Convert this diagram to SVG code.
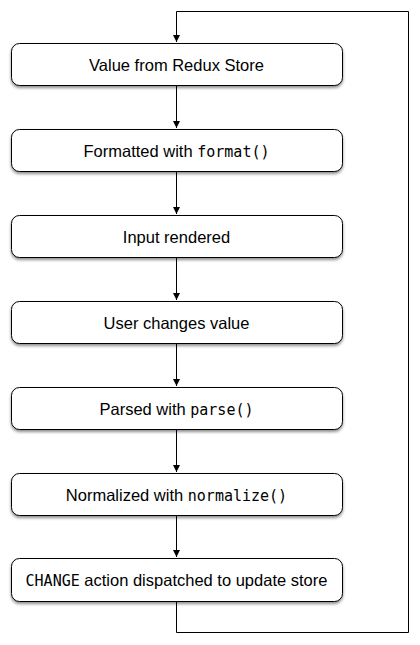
<svg xmlns="http://www.w3.org/2000/svg" width="420" height="645" viewBox="0 0 420 645">
<style>
.box{fill:#fff;stroke:#000;stroke-width:1;filter:url(#sh)}
.t{font-family:"Liberation Sans",Arial,sans-serif;font-size:16.5px;fill:#000;text-anchor:middle}
.m{font-family:"DejaVu Sans Mono",monospace;font-size:15px}
.c{fill:none;stroke:#000;stroke-width:1}
</style>
<defs>
<filter id="sh" x="-5%" y="-20%" width="110%" height="150%">
<feGaussianBlur in="SourceAlpha" stdDeviation="1.5"/>
<feOffset dx="0" dy="2" result="b"/>
<feComponentTransfer><feFuncA type="linear" slope="0.45"/></feComponentTransfer>
<feMerge><feMergeNode/><feMergeNode in="SourceGraphic"/></feMerge>
</filter>
<marker id="a" markerWidth="8" markerHeight="8" refX="7" refY="4" orient="auto" markerUnits="userSpaceOnUse">
<path d="M0,0.5 L7,4 L0,7.5 Z" fill="#000"/>
</marker>
</defs>
<g id="connectors">
<path class="c" d="M176.5,86 V128" marker-end="url(#a)"/>
<path class="c" d="M176.5,172 V214" marker-end="url(#a)"/>
<path class="c" d="M176.5,258 V300" marker-end="url(#a)"/>
<path class="c" d="M176.5,344 V386" marker-end="url(#a)"/>
<path class="c" d="M176.5,430 V472" marker-end="url(#a)"/>
<path class="c" d="M176.5,516 V557" marker-end="url(#a)"/>
<path class="c" d="M176.5,602 V632.5 H408.5 V11.5 H176.5 V42" marker-end="url(#a)"/>
</g>
<g id="n1"><rect class="box" x="11.5" y="43.5" width="331" height="42" rx="8"/><text class="t" x="176.5" y="71">Value from Redux Store</text></g>
<g id="n2"><rect class="box" x="11.5" y="129.5" width="331" height="42" rx="8"/><text class="t" x="176.5" y="157">Formatted with <tspan class="m">format()</tspan></text></g>
<g id="n3"><rect class="box" x="11.5" y="215.5" width="331" height="42" rx="8"/><text class="t" x="176.5" y="243">Input rendered</text></g>
<g id="n4"><rect class="box" x="11.5" y="301.5" width="331" height="42" rx="8"/><text class="t" x="176.5" y="329">User changes value</text></g>
<g id="n5"><rect class="box" x="11.5" y="387.5" width="331" height="42" rx="8"/><text class="t" x="176.5" y="415">Parsed with <tspan class="m">parse()</tspan></text></g>
<g id="n6"><rect class="box" x="11.5" y="473.5" width="331" height="42" rx="8"/><text class="t" x="176.5" y="501">Normalized with <tspan class="m">normalize()</tspan></text></g>
<g id="n7"><rect class="box" x="11.5" y="558.5" width="331" height="43" rx="8"/><text class="t" x="176.5" y="586"><tspan class="m">CHANGE</tspan> action dispatched to update store</text></g>
</svg>
